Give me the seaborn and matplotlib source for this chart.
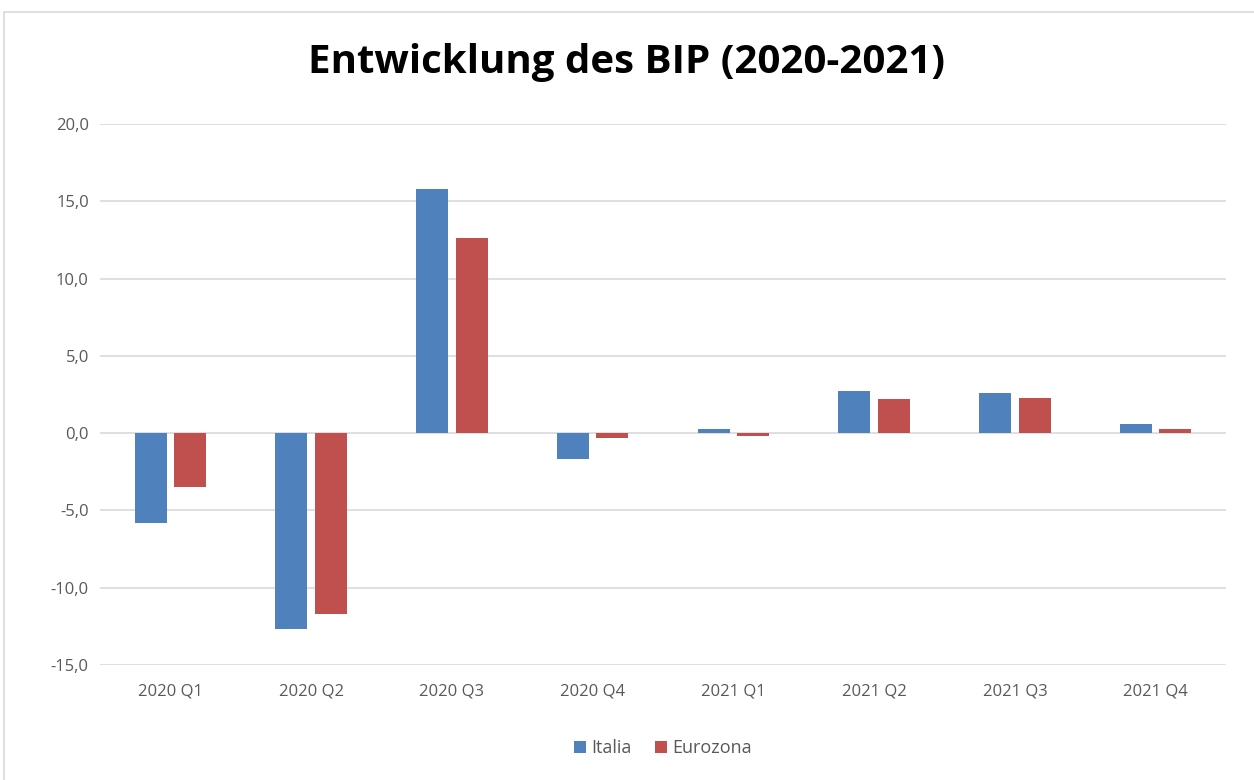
import seaborn as sns
import matplotlib.pyplot as plt
import pandas as pd
from matplotlib.patches import Rectangle
from matplotlib.ticker import FuncFormatter

# data
quarters = ["2020 Q1", "2020 Q2", "2020 Q3", "2020 Q4",
            "2021 Q1", "2021 Q2", "2021 Q3", "2021 Q4"]
italia = [-5.8, -12.7, 15.8, -1.7, 0.3, 2.7, 2.6, 0.6]
eurozona = [-3.5, -11.7, 12.6, -0.3, -0.2, 2.2, 2.3, 0.3]
series = ["Italia", "Eurozona"]
colors = ["#4f81bd", "#c0504d"]

data = pd.DataFrame({
    "quarter": quarters * 2,
    "value": italia + eurozona,
    "series": [series[0]] * len(quarters) + [series[1]] * len(quarters),
})

sns.set_style("white")
plt.rcParams['font.family'] = ['Open Sans', 'DejaVu Sans']

fig = plt.figure(figsize=(12.54, 7.8), dpi=100)
ax = fig.add_axes([0.0797, 0.1474, 0.898, 0.6936])

# chart border
fig.patches.append(Rectangle((0.003, -0.01), 1.5, 0.995, transform=fig.transFigure,
                             fill=False, edgecolor="#d9d9d9", linewidth=1.2))

sns.barplot(data=data, x="quarter", y="value", hue="series",
            palette=colors, width=0.56, gap=0.19, ax=ax,
            edgecolor="none", saturation=1)

ax.set_ylim(-15, 20)
ax.set_yticks(range(-15, 21, 5))
ax.yaxis.set_major_formatter(FuncFormatter(lambda v, p: f"{v:.1f}".replace(".", ",")))
ax.grid(axis="y", color="#d9d9d9", linewidth=1.2)
ax.set_axisbelow(True)
for s in ax.spines.values():
    s.set_visible(False)
ax.tick_params(axis="both", length=0, labelsize=12, labelcolor="#595959")
ax.tick_params(axis="x", pad=13)
ax.tick_params(axis="y", pad=8)
ax.set_xlabel("")
ax.set_ylabel("")
ax.set_xlim(-0.5, len(quarters) - 0.5)

fig.suptitle("Entwicklung des BIP (2020-2021)", y=0.945, fontsize=29,
             fontweight="bold", color="black")

ax.legend(loc="lower center", bbox_to_anchor=(0.5, -0.2), ncol=2, frameon=False,
          handlelength=0.65, handleheight=0.65, handletextpad=0.3, columnspacing=1.3,
          labelcolor="#595959", prop={"size": 13})

fig.savefig("out.png", dpi=100)
